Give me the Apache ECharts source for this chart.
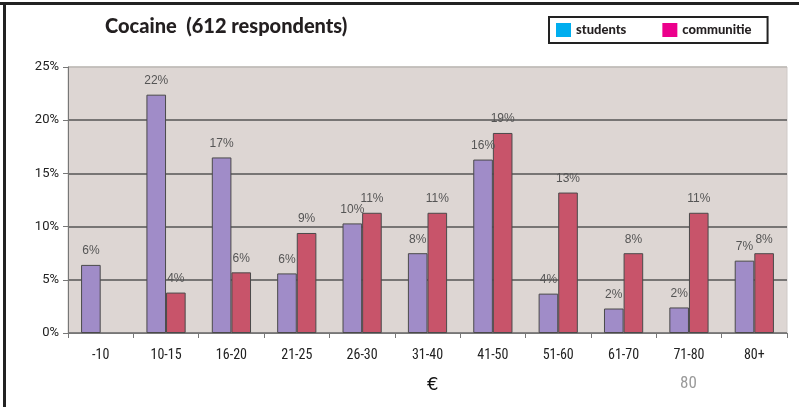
<!DOCTYPE html>
<html>
<head>
<meta charset="utf-8">
<script src="https://cdn.jsdelivr.net/npm/echarts@6/dist/echarts.min.js"></script>
<style>
  html, body { margin: 0; padding: 0; background: #fff; }
  #chart { width: 799px; height: 407px; }
</style>
</head>
<body>
<div id="chart"></div>
<script>
// Price brackets (€) and share of respondents per bracket, in percent
const categories = ['-10', '10-15', '16-20', '21-25', '26-30', '31-40', '41-50', '51-60', '61-70', '71-80', '80+'];
const students = [6.4, 22.4, 16.5, 5.6, 10.3, 7.5, 16.3, 3.7, 2.3, 2.4, 6.8];
const communities = [null, 3.8, 5.7, 9.4, 11.3, 11.3, 18.8, 13.2, 7.5, 11.3, 7.5];
const yTicks = [0, 5, 10, 15, 20, 25];

const chart = echarts.init(document.getElementById('chart'));

const barLabel = {
  show: true,
  position: 'top',
  distance: 8,
  color: '#555',
  fontFamily: 'Liberation Sans, Arial, sans-serif',
  fontSize: 12,
  formatter: p => (p.value == null ? '' : Math.round(p.value) + '%')
};

chart.setOption({
  animation: false,
  backgroundColor: '#ffffff',
  title: {
    text: 'Cocaine  (612 respondents)',
    left: 100,
    top: 12,
    textStyle: { fontFamily: 'Lato', fontWeight: 900, fontSize: 20, color: '#231f20' }
  },
  legend: {
    left: 549,
    top: 17,
    padding: [6, 16, 6, 7],
    borderColor: '#222',
    borderWidth: 2,
    itemWidth: 15,
    itemHeight: 14,
    itemGap: 36,
    textStyle: { fontFamily: 'Lato', fontWeight: 900, fontSize: 13, color: '#231f20' },
    data: [
      { name: 'students', icon: 'rect', itemStyle: { color: '#00aeef', borderWidth: 0 } },
      { name: 'communitie', icon: 'rect', itemStyle: { color: '#ec008c', borderWidth: 0 } }
    ]
  },
  grid: {
    left: 68, right: 12, top: 67, bottom: 74,
    show: true,
    backgroundColor: '#ddd6d3',
    borderColor: '#cfcac7',
    borderWidth: 1
  },
  xAxis: {
    type: 'category',
    data: categories,
    axisLine: { lineStyle: { color: '#777', width: 1 } },
    axisTick: { show: true, length: 5, interval: 0, lineStyle: { color: '#777' } },
    axisLabel: {
      margin: 15,
      color: '#222',
      fontFamily: 'Roboto Condensed, Roboto, sans-serif',
      fontSize: 14,
      interval: 0
    },
    splitLine: { show: false }
  },
  yAxis: {
    type: 'value',
    min: yTicks[0],
    max: yTicks[yTicks.length - 1],
    interval: 5,
    axisLine: { show: true, lineStyle: { color: '#777', width: 1 } },
    axisTick: { show: true, length: 5, lineStyle: { color: '#777' } },
    axisLabel: {
      margin: 9,
      color: '#222',
      fontFamily: 'Roboto, sans-serif',
      fontSize: 13,
      formatter: v => v + '%'
    },
    splitLine: {
      show: true,
      lineStyle: { color: ['#666', '#555', '#555', '#555', '#555', '#bdb8b5'], width: 1.5 }
    }
  },
  series: [
    {
      name: 'students',
      type: 'bar',
      data: students,
      barWidth: '30%',
      barGap: '0%',
      itemStyle: { color: '#a08cc8', borderColor: '#4a4a4a', borderWidth: 1 },
      label: barLabel
    },
    {
      name: 'communitie',
      type: 'bar',
      data: communities,
      barWidth: '30%',
      barGap: '0%',
      itemStyle: { color: '#c8546a', borderColor: '#4a4a4a', borderWidth: 1 },
      label: barLabel
    }
  ],
  graphic: [
    // outer frame, top and left edges
    { type: 'rect', shape: { x: 0, y: 2, width: 799, height: 3 }, style: { fill: '#222' }, silent: true },
    { type: 'rect', shape: { x: 3, y: 2, width: 3, height: 405 }, style: { fill: '#222' }, silent: true },
    {
      type: 'text', left: 427, top: 376,
      style: { text: '€', fontFamily: 'DejaVu Sans', fontSize: 18, fill: '#111' }
    },
    {
      type: 'text', left: 680, top: 375,
      style: { text: '80', fontFamily: 'Roboto Condensed, Roboto, sans-serif', fontSize: 17, fill: '#9a9a9a' }
    }
  ]
});
</script>
</body>
</html>
